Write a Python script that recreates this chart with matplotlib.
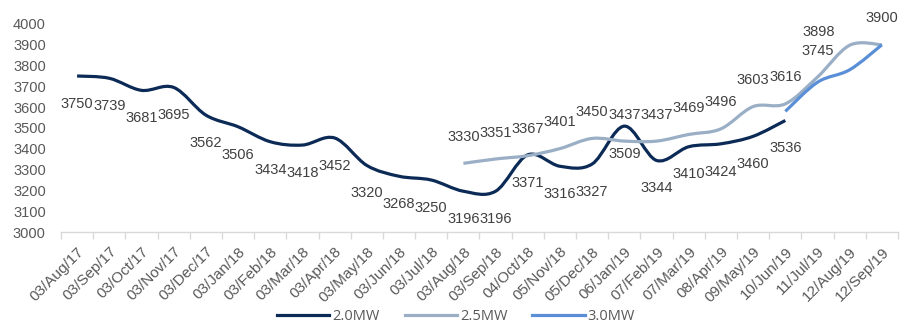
import numpy as np
import matplotlib.pyplot as plt
from matplotlib.path import Path
from matplotlib.patches import PathPatch
from matplotlib.lines import Line2D

plt.rcParams['font.family'] = ['Liberation Sans', 'DejaVu Sans']

dates = ["03/Aug/17", "03/Sep/17", "03/Oct/17", "03/Nov/17", "03/Dec/17",
         "03/Jan/18", "03/Feb/18", "03/Mar/18", "03/Apr/18", "03/May/18",
         "03/Jun/18", "03/Jul/18", "03/Aug/18", "03/Sep/18", "04/Oct/18",
         "05/Nov/18", "05/Dec/18", "06/Jan/19", "07/Feb/19", "07/Mar/19",
         "08/Apr/19", "09/May/19", "10/Jun/19", "11/Jul/19", "12/Aug/19",
         "12/Sep/19"]

# 2.0MW runs Aug-17 .. Jun-19
mw20 = [3750, 3739, 3681, 3695, 3562, 3506, 3434, 3418, 3452, 3320, 3268,
        3250, 3196, 3196, 3371, 3316, 3327, 3509, 3344, 3410, 3424, 3460, 3536]
# 2.5MW runs Aug-18 .. Sep-19
mw25 = [3330, 3351, 3367, 3401, 3450, 3437, 3437, 3469, 3496, 3603, 3616,
        3745, 3898, 3900]
# 3.0MW runs Jun-19 .. Sep-19
mw30 = [3580, 3720, 3780, 3900]

mw20_start = 0
mw25_start = 12
mw30_start = 22

C20 = "#0b2a56"
C25 = "#9aafc5"
C30 = "#5a8fd8"
LABEL = "#404040"
TICK = "#595959"


def smooth_path(xs, ys):
    # Catmull-Rom style bezier, the same kind of curve Excel uses for smoothed lines
    pts = np.column_stack([xs, ys]).astype(float)
    n = len(pts)
    verts = [pts[0]]
    codes = [Path.MOVETO]
    for i in range(n - 1):
        p0 = pts[i - 1] if i > 0 else pts[i]
        p1 = pts[i]
        p2 = pts[i + 1]
        p3 = pts[i + 2] if i + 2 < n else pts[i + 1]
        c1 = p1 + (p2 - p0) / 6.0
        c2 = p2 - (p3 - p1) / 6.0
        verts += [c1, c2, p2]
        codes += [Path.CURVE4] * 3
    return Path(verts, codes)


fig = plt.figure(figsize=(9.12, 3.25), dpi=100)
ax = fig.add_axes([61 / 912, 1 - 232 / 325, 837 / 912, 208 / 325])

series = [(mw20, mw20_start, C20, "2.0MW"),
          (mw25, mw25_start, C25, "2.5MW"),
          (mw30, mw30_start, C30, "3.0MW")]

for vals, start, col, name in series:
    xs = np.arange(start, start + len(vals))
    ax.add_patch(PathPatch(smooth_path(xs, vals), facecolor="none",
                           edgecolor=col, lw=2.3, capstyle="butt",
                           joinstyle="round"))

# value labels: 2.0MW below the line, 2.5MW above
for i, v in enumerate(mw20):
    ax.annotate(str(v), (mw20_start + i, v), xytext=(0, -20),
                textcoords="offset points", ha="center", va="center",
                fontsize=10.5, color=LABEL)

nudge = {12: (-22.5, 9.5)}
for i, v in enumerate(mw25):
    dx, dy = nudge.get(i, (0, 19))
    ax.annotate(str(v), (mw25_start + i, v), xytext=(dx, dy),
                textcoords="offset points", ha="center", va="center",
                fontsize=10.5, color=LABEL)

ax.set_xlim(-0.5, len(dates) - 0.5)
ax.set_ylim(3000, 4000)
ax.set_yticks(np.arange(3000, 4001, 100))
ax.tick_params(axis="y", length=0, pad=11, labelsize=10.5, labelcolor=TICK)

ax.set_xticks(np.arange(len(dates)))
ax.set_xticklabels(dates, rotation=45, ha="right", va="top",
                   rotation_mode="anchor", fontsize=11, color=TICK)
ax.tick_params(axis="x", which="major", length=0, pad=9)
ax.set_xticks(np.arange(-0.5, len(dates)), minor=True)
ax.tick_params(axis="x", which="minor", length=5, width=1, color="#d9d9d9")

for s in ["top", "right", "left"]:
    ax.spines[s].set_visible(False)
ax.spines["bottom"].set_color("#d9d9d9")
ax.spines["bottom"].set_linewidth(1)

handles = [Line2D([], [], color=c, lw=2.3) for c in (C20, C25, C30)]
fig.legend(handles, ["2.0MW", "2.5MW", "3.0MW"], loc="center",
           bbox_to_anchor=(0.5, 1 - 317 / 325), ncol=3, frameon=False,
           handlelength=3.6, handletextpad=0.2, columnspacing=1.7,
           prop={"family": "Open Sans", "size": 10.5}, labelcolor=TICK)

fig.savefig("out.png", dpi=100)
